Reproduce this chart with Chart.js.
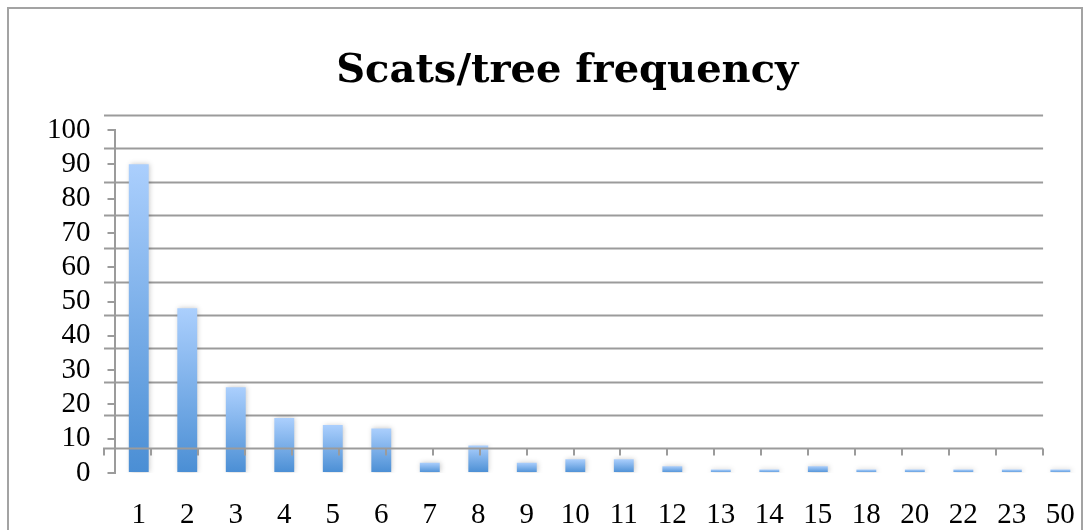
<!DOCTYPE html>
<html>
<head>
<meta charset="utf-8">
<title>Scats/tree frequency</title>
<script src="https://cdn.jsdelivr.net/npm/chart.js@4"></script>
<style>
  html, body { margin: 0; padding: 0; background: #fff; overflow: hidden; }
  #wrap { width: 1084px; height: 530px; overflow: hidden; position: relative; }
  canvas { display: block; }
</style>
</head>
<body>
<div id="wrap"><canvas id="chart" width="1100" height="530"></canvas></div>
<script>
// Chart data.
var categories = ['1', '2', '3', '4', '5', '6', '7', '8', '9', '10', '11', '12', '13', '14', '15', '18', '20', '22', '23', '50'];
var scatCounts = [90, 48, 25, 16, 14, 13, 3, 8, 3, 4, 4, 2, 1, 1, 2, 1, 1, 1, 1, 1];
var yTicks = [0, 10, 20, 30, 40, 50, 60, 70, 80, 90, 100];

var GRID = '#9b9b9b';

// Back wall of the pseudo-3D plot, relative to the front plane (chart area).
var WALL_DX = -10.5;
var WALL_DY = -24.7;
var WALL_SX = 0.968;
var WALL_SY = 0.972;

function wall(chart) {
  var a = chart.chartArea;
  var left = a.left + WALL_DX;
  var bottom = a.bottom + WALL_DY;
  return {
    left: left,
    right: left + (a.right - a.left) * WALL_SX,
    bottom: bottom,
    yFor: function (v) {
      return bottom - (a.bottom - chart.scales.y.getPixelForValue(v)) * WALL_SY;
    }
  };
}

var wallPlugin = {
  id: 'wall',
  beforeDraw: function (chart) {
    var ctx = chart.ctx;
    ctx.save();
    ctx.fillStyle = '#fff';
    ctx.fillRect(0, 0, chart.width, chart.height);
    // Outer chart border.
    ctx.strokeStyle = '#a3a3a3';
    ctx.lineWidth = 2;
    ctx.strokeRect(8, 8, 1074, chart.height + 20);
    ctx.restore();
  },
  beforeDatasetsDraw: function (chart) {
    var ctx = chart.ctx;
    var w = wall(chart);
    ctx.save();
    ctx.strokeStyle = GRID;
    ctx.lineWidth = 2;
    yTicks.forEach(function (v) {
      if (v === 0) return;
      var y = Math.round(w.yFor(v)) + 0.5;
      ctx.beginPath();
      ctx.moveTo(w.left, y);
      ctx.lineTo(w.right, y);
      ctx.stroke();
    });
    ctx.restore();
    // Soft shadow round the bars.
    ctx.save();
    ctx.shadowColor = 'rgba(0, 0, 0, 0.22)';
    ctx.shadowBlur = 5;
    ctx.shadowOffsetX = 1;
  },
  afterDatasetsDraw: function (chart) {
    var ctx = chart.ctx;
    ctx.restore();
    // Category axis on the back wall, drawn over the bars.
    var w = wall(chart);
    var y = Math.round(w.yFor(0)) + 0.5;
    var step = (w.right - w.left) / categories.length;
    ctx.save();
    ctx.strokeStyle = GRID;
    ctx.lineWidth = 2;
    ctx.beginPath();
    ctx.moveTo(w.left - 1, y);
    ctx.lineTo(w.right, y);
    for (var k = 0; k <= categories.length; k++) {
      var x = Math.round(w.left + k * step);
      ctx.moveTo(x, y);
      ctx.lineTo(x, y + 7);
    }
    ctx.stroke();
    ctx.restore();
  }
};

function barGradient(context) {
  var chart = context.chart;
  if (!chart.chartArea) return '#6fa8ea';
  var y = chart.scales.y;
  var top = y.getPixelForValue(context.raw);
  var bottom = y.getPixelForValue(0);
  var g = chart.ctx.createLinearGradient(0, top, 0, bottom);
  g.addColorStop(0, '#abcffd');
  g.addColorStop(1, '#4a8ed4');
  return g;
}

new Chart(document.getElementById('chart'), {
  type: 'bar',
  plugins: [wallPlugin],
  data: {
    labels: categories,
    datasets: [{
      data: scatCounts,
      backgroundColor: barGradient,
      borderWidth: 0,
      barPercentage: 0.41,
      categoryPercentage: 1
    }]
  },
  options: {
    responsive: false,
    animation: false,
    devicePixelRatio: 1,
    layout: {
      padding: { left: 40, right: 5.5, top: 0, bottom: 0 }
    },
    plugins: {
      legend: { display: false },
      tooltip: { enabled: false },
      title: {
        display: true,
        text: 'Scats/tree frequency',
        color: '#000',
        font: { family: '"DejaVu Serif"', size: 40, weight: 'bold', lineHeight: 1.2 },
        padding: { top: 48, bottom: 34 }
      }
    },
    scales: {
      x: {
        grid: { display: false, drawTicks: false },
        border: { display: false },
        ticks: {
          color: '#000',
          font: { family: '"Liberation Serif"', size: 29 },
          padding: 25,
          maxRotation: 0,
          autoSkip: false
        },
        afterFit: function (scale) { scale.height = 57; }
      },
      y: {
        min: 0,
        max: 100,
        grid: {
          drawOnChartArea: false,
          drawTicks: true,
          tickLength: 7,
          color: GRID,
          lineWidth: 2
        },
        border: { display: true, color: GRID, width: 2 },
        ticks: {
          stepSize: 10,
          autoSkip: false,
          color: '#000',
          font: { family: '"Liberation Serif"', size: 29 },
          padding: 17
        },
        afterFit: function (scale) { scale.width = 74.5; }
      }
    }
  }
});
</script>
</body>
</html>
